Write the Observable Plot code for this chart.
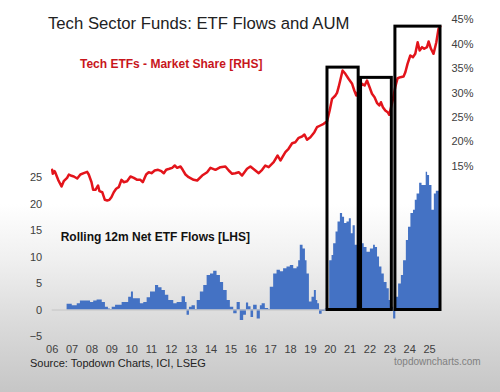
<!DOCTYPE html>
<html>
<head>
<meta charset="utf-8">
<script src="https://cdn.jsdelivr.net/npm/d3@7"></script>
<script src="https://cdn.jsdelivr.net/npm/@observablehq/plot@0.6"></script>
<style>
  html, body { margin: 0; padding: 0; }
  body { width: 500px; height: 392px; overflow: hidden; font-family: "Liberation Sans", Arial, sans-serif; }
  #wrap { position: relative; width: 500px; height: 392px;
    background: linear-gradient(180deg, #ffffff 0%, #ffffff 52%, #f0f0f0 66%, #dbdbdb 82%, #c6c6c6 100%); }
  #chart { position: absolute; left: 0; top: 0; }
  .t { position: absolute; white-space: nowrap; }
  #title { left: 48px; top: 16px; font-size: 16.7px; line-height: 16.7px; color: #222; }
  #rhsLabel { left: 80px; top: 58px; font-size: 12px; line-height: 12px; font-weight: bold; color: #c8161c; }
  #lhsLabel { left: 60.7px; top: 231.3px; font-size: 12px; line-height: 12px; font-weight: bold; color: #111; }
  #source { left: 30px; top: 357.7px; font-size: 11px; line-height: 11px; color: #222; }
  #site { right: 19.3px; top: 356.5px; font-size: 10px; line-height: 10px; color: #808080; }
</style>
</head>
<body>
<div id="wrap">
  <div id="chart"></div>
  <div class="t" id="title">Tech Sector Funds: ETF Flows and AUM</div>
  <div class="t" id="rhsLabel">Tech ETFs - Market Share [RHS]</div>
  <div class="t" id="lhsLabel">Rolling 12m Net ETF Flows [LHS]</div>
  <div class="t" id="source">Source: Topdown Charts, ICI, LSEG</div>
  <div class="t" id="site">topdowncharts.com</div>
</div>
<script>
// ---- Tech ETFs market share (%), right-hand scale ----
const lineYear = [2006.00,2006.03,2006.12,2006.17,2006.30,2006.47,2006.58,2006.75,2006.84,2006.97,
  2007.09,2007.26,2007.42,2007.59,2007.76,2007.84,2007.98,2008.06,2008.18,2008.31,2008.38,2008.52,
  2008.65,2008.77,2008.88,2008.98,2009.10,2009.22,2009.35,2009.49,2009.60,2009.77,2009.94,2010.11,
  2010.28,2010.44,2010.56,2010.73,2010.86,2011.00,2011.16,2011.33,2011.50,2011.62,2011.74,2011.90,
  2012.04,2012.17,2012.29,2012.46,2012.57,2012.71,2012.87,2013.12,2013.30,2013.55,2013.80,2013.97,
  2014.22,2014.47,2014.72,2014.89,2015.06,2015.22,2015.39,2015.56,2015.81,2015.98,2016.23,2016.40,
  2016.57,2016.73,2016.90,2017.15,2017.35,2017.49,2017.74,2017.90,2018.08,2018.24,2018.41,2018.58,
  2018.70,2018.83,2019.00,2019.20,2019.33,2019.50,2019.67,2019.84,2019.97,2020.09,2020.26,2020.34,
  2020.42,2020.54,2020.62,2020.76,2020.92,2021.10,2021.21,2021.31,2021.43,2021.60,2021.73,2021.85,
  2021.98,2022.10,2022.23,2022.35,2022.47,2022.55,2022.65,2022.77,2022.89,2022.97,2023.06,2023.16,
  2023.27,2023.39,2023.53,2023.69,2023.78,2023.89,2024.03,2024.16,2024.28,2024.40,2024.50,2024.62,
  2024.73,2024.87,2024.95,2025.07,2025.20,2025.34,2025.45,2025.54];
const linePct = [14.26,13.44,13.98,13.57,12.21,10.84,11.93,12.62,13.30,13.03,
  12.89,12.48,13.30,13.57,13.85,13.30,11.72,10.16,10.16,11.05,9.88,9.67,
  8.11,7.97,8.11,8.65,9.67,10.37,10.70,12.21,11.72,11.93,12.89,12.62,
  12.21,12.21,11.72,13.30,13.77,13.57,14.12,14.26,13.98,13.57,14.26,14.47,
  14.67,15.14,14.67,14.94,14.26,13.30,12.75,12.21,12.07,13.09,13.77,14.67,
  14.26,14.80,14.94,14.12,13.44,13.57,13.77,13.09,14.47,14.94,14.12,13.57,
  14.26,15.14,14.80,15.82,17.19,16.17,17.87,18.57,19.71,19.92,20.82,21.09,
  21.50,20.41,20.94,21.97,22.99,23.34,23.69,24.22,26.41,28.81,29.49,30.04,
  31.19,33.24,34.61,33.93,32.91,31.89,30.51,29.49,30.51,31.89,31.54,32.56,
  31.19,29.84,29.14,27.99,27.44,28.11,27.09,26.41,26.07,25.53,27.09,28.81,
  31.19,33.03,33.24,33.38,34.26,35.98,37.68,37.34,38.03,40.41,38.71,39.39,
  39.06,39.39,40.55,39.06,38.03,40.41,43.16,43.63];

// ---- Rolling 12m net ETF flows, left-hand scale (step start year, value) ----
const flowStart = [2006.75,2007.01,2007.26,2007.42,2007.93,2008.09,2008.26,2008.52,2008.68,2008.83,
  2008.93,2009.02,2009.19,2009.52,2009.85,2009.99,2010.09,2010.44,2010.61,2010.78,2010.95,2011.20,
  2011.36,2011.53,2011.70,2011.87,2012.12,2012.29,2012.54,2012.71,2012.79,2012.91,2013.04,2013.21,
  2013.30,2013.46,2013.63,2013.80,2013.97,2014.13,2014.30,2014.47,2014.63,2014.81,2014.97,2015.14,
  2015.31,2015.47,2015.64,2015.78,2015.89,2016.01,2016.14,2016.32,2016.48,2016.57,2016.73,2016.90,
  2016.98,2017.15,2017.32,2017.49,2017.65,2017.82,2017.99,2018.16,2018.33,2018.41,2018.49,2018.63,
  2018.75,2018.83,2018.95,2019.08,2019.20,2019.30,2019.37,2019.46,2019.59,2019.75,2019.97,2020.09,
  2020.17,2020.29,2020.39,2020.51,2020.62,2020.72,2020.84,2020.96,2021.06,2021.15,2021.26,2021.60,
  2021.71,2021.85,2022.02,2022.18,2022.27,2022.38,2022.48,2022.60,2022.72,2022.86,2022.97,2023.07,
  2023.19,2023.30,2023.44,2023.58,2023.69,2023.83,2023.94,2024.06,2024.19,2024.28,2024.37,2024.50,
  2024.62,2024.83,2024.90,2025.00,2025.12,2025.24,2025.34];
const flowValue = [1.1,0.8,1.2,1.7,1.4,1.7,1.9,1.4,0.5,0.2,
  0.1,0.5,0.9,1.4,2.4,3.4,2.1,1.2,1.4,2.3,3.4,4.6,
  4.2,3.7,2.8,1.8,1.2,1.4,2.5,1.4,-1.0,0.5,0.8,0.1,
  1.8,3.4,4.6,6.5,6.8,7.3,6.5,5.2,3.7,1.8,0.5,-0.7,
  1.4,-2.0,-1.0,1.3,0.6,-1.4,0.9,-1.7,0.8,1.2,0.3,-0.1,
  4.3,6.8,7.5,7.2,7.8,8.1,8.4,7.8,8.1,9.3,12.2,11.5,
  9.3,6.8,1.5,2.4,3.7,1.8,1.2,-0.8,-0.3,0.2,9.3,10.3,
  12.5,14.7,16.6,18.2,17.5,16.3,16.6,17.2,14.4,15.9,12.2,12.5,
  11.8,10.9,11.5,12.2,11.8,10.0,8.1,6.8,5.2,4.0,1.8,0.5,
  -1.7,2.4,4.9,6.5,9.3,13.1,15.6,18.2,18.8,20.7,21.9,23.9,
  23.5,26.0,25.4,23.5,18.8,21.9,22.4];
const flowLastEnd = 2025.51;

// ---- highlighted periods ----
const boxStart = [2019.86, 2021.55, 2023.28];
const boxEnd = [2021.43, 2023.10, 2025.55];
const boxTopPct = [35.2, 33.1, 43.6];

// ---- tick labels ----
const xTickYears = d3.range(2006, 2026);
const lhsTicks = [-5, 0, 5, 10, 15, 20, 25];
const rhsTicksPct = [15, 20, 25, 30, 35, 40, 45];

// dual-axis alignment: LHS value = rhsOffset + rhsScale * pct
const rhsScale = 0.9208, rhsOffset = 13.32;
const toL = p => rhsOffset + rhsScale * p;

const lineData = lineYear.map((x, i) => ({x, y: toL(linePct[i])}));
// step points: each value holds from its start until the next start
const flowPts = flowStart.map((x, i) => ({x, v: flowValue[i]}));
flowPts.push({x: flowLastEnd, v: flowValue[flowValue.length - 1]});
const boxes = boxStart.map((x1, i) => ({x1, x2: boxEnd[i], top: toL(boxTopPct[i])}));

const chart = Plot.plot({
  width: 500, height: 392,
  marginLeft: 51.7, marginRight: 60, marginTop: 18, marginBottom: 56,
  x: {type: "linear", domain: [2006, 2025.55]},
  y: {type: "linear", domain: [-5, 55]},
  style: {background: "transparent", fontFamily: "'Liberation Sans', Arial, sans-serif", fontSize: "11px", color: "#404040", overflow: "visible"},
  marks: [
    Plot.area(flowPts, {x1: "x", y1: 0, y2: "v", curve: "step-after", fill: "#4472C4"}),
    Plot.ruleY([0], {stroke: "#c4c4c4", strokeWidth: 1}),
    Plot.line(lineData, {x: "x", y: "y", stroke: "#e3141b", strokeWidth: 2.5}),
    Plot.rect(boxes, {x1: "x1", x2: "x2", y1: 0, y2: "top", stroke: "black", strokeWidth: 3, fill: "none"}),
    Plot.axisX(xTickYears, {anchor: "bottom", tickSize: 0, tickPadding: 9, fill: "#404040", tickFormat: d => String(d % 100).padStart(2, "0")}),
    Plot.axisY(lhsTicks, {anchor: "left", tickSize: 0, tickPadding: 10, fill: "#404040"}),
    Plot.axisY(rhsTicksPct.map(toL), {anchor: "right", tickSize: 0, tickPadding: 11, fill: "#404040", tickFormat: d => Math.round((d - rhsOffset) / rhsScale) + "%"})
  ]
});
document.getElementById("chart").appendChild(chart);
</script>
</body>
</html>
